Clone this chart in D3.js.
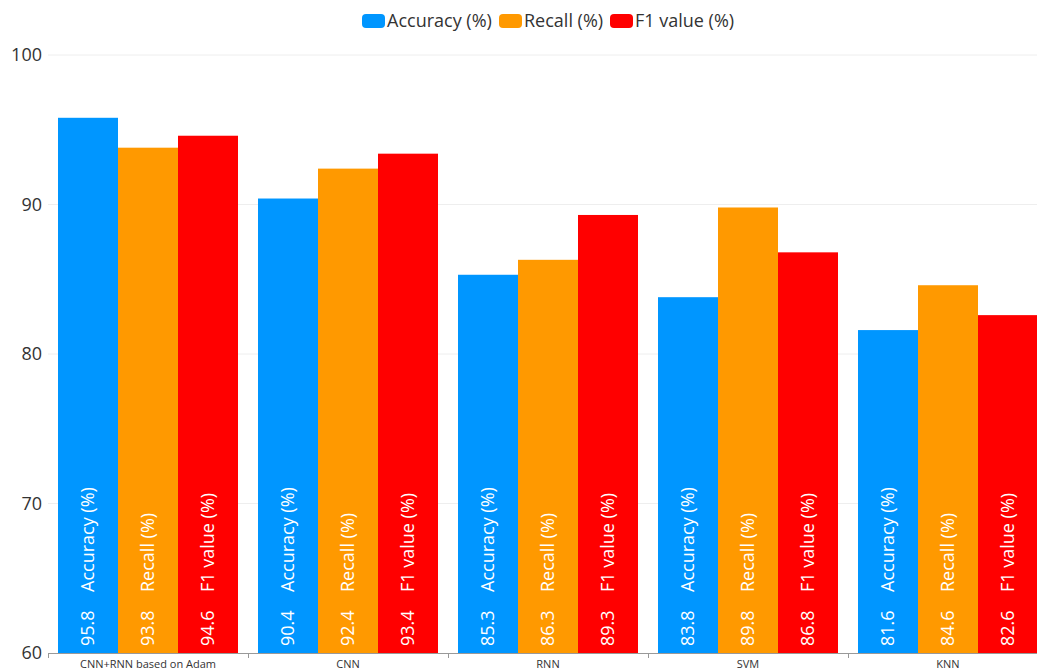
<!DOCTYPE html>
<html>
<head>
<meta charset="utf-8">
<script src="https://cdn.jsdelivr.net/npm/d3@7"></script>
<style>
html,body{margin:0;padding:0;background:#fff;overflow:hidden;}
svg{display:block;font-family:"Open Sans","Noto Sans",sans-serif;}
</style>
</head>
<body>
<svg id="chart" width="1037" height="670"></svg>
<script>
const categories = ["CNN+RNN based on Adam", "CNN", "RNN", "SVM", "KNN"];
const seriesNames = ["Accuracy (%)", "Recall (%)", "F1 value (%)"];
const accuracy = [95.8, 90.4, 85.3, 83.8, 81.6];
const recall = [93.8, 92.4, 86.3, 89.8, 84.6];
const f1 = [94.6, 93.4, 89.3, 86.8, 82.6];
const yTicks = [60, 70, 80, 90, 100];
const colors = ["#0096FF", "#FF9900", "#FF0000"];

const seriesValues = [accuracy, recall, f1];
const svg = d3.select("#chart");

const y = d3.scaleLinear().domain([60, 100]).range([653, 55]);
const x = d3.scaleBand().domain(categories).range([48, 1048]).paddingInner(0.1).paddingOuter(0.05);
const xs = d3.scaleBand().domain(seriesNames).range([0, x.bandwidth()]);

// grid lines
svg.append("g").selectAll("line").data(yTicks.filter(t => t !== 60)).join("line")
  .attr("x1", 48).attr("x2", 1048)
  .attr("y1", d => y(d)).attr("y2", d => y(d))
  .attr("stroke", "#eeeeee").attr("stroke-width", 1);

// y axis labels
const yAxis = svg.append("g").attr("transform", "translate(48,0)")
  .call(d3.axisLeft(y).tickValues(yTicks).tickSize(0).tickPadding(6));
yAxis.select(".domain").remove();
yAxis.selectAll("text").attr("font-size", 18).attr("fill", "#333")
  .attr("font-family", "'Open Sans','Noto Sans',sans-serif");

// bars
const groups = svg.append("g").selectAll("g").data(categories).join("g")
  .attr("transform", d => `translate(${x(d)},0)`);

seriesNames.forEach((s, si) => {
  groups.append("rect")
    .attr("x", xs(s))
    .attr("width", xs.bandwidth())
    .attr("y", (d, i) => y(seriesValues[si][i]))
    .attr("height", (d, i) => y(60) - y(seriesValues[si][i]))
    .attr("fill", colors[si]);
  // value label
  groups.append("text")
    .attr("transform", (d, i) => `translate(${xs(s) + xs.bandwidth() / 2 + 6},646) rotate(-90)`)
    .attr("font-size", 18).attr("fill", "#fff")
    .text((d, i) => seriesValues[si][i].toFixed(1));
  // series name label
  groups.append("text")
    .attr("transform", `translate(${xs(s) + xs.bandwidth() / 2 + 6},592) rotate(-90)`)
    .attr("font-size", 18).attr("fill", "#fff")
    .text(s);
});

// x axis
const xAxisG = svg.append("g").attr("transform", `translate(0,${y(60)})`);
xAxisG.append("line").attr("x1", 48).attr("x2", 1048).attr("y1", 0.5).attr("y2", 0.5)
  .attr("stroke", "#999").attr("stroke-width", 1);
const boundaries = d3.range(categories.length + 1).map(i => 48 + i * x.step());
xAxisG.selectAll("line.tk").data(boundaries).join("line").attr("class", "tk")
  .attr("x1", d => d + 0.5).attr("x2", d => d + 0.5).attr("y1", 0).attr("y2", 5)
  .attr("stroke", "#999");
xAxisG.selectAll("text").data(categories).join("text")
  .attr("x", d => x(d) + x.bandwidth() / 2)
  .attr("y", 15)
  .attr("text-anchor", "middle")
  .attr("font-size", 11).attr("fill", "#333")
  .text(d => d);

// legend
const legendItems = [
  {name: seriesNames[0], x: 362},
  {name: seriesNames[1], x: 499},
  {name: seriesNames[2], x: 610}
];
const lg = svg.append("g").selectAll("g").data(legendItems).join("g")
  .attr("transform", d => `translate(${d.x},21)`);
lg.append("rect").attr("x", 0).attr("y", -7).attr("width", 23).attr("height", 14)
  .attr("rx", 4).attr("fill", (d, i) => colors[i]);
lg.append("text").attr("x", 25).attr("y", 0).attr("dy", "0.35em")
  .attr("font-size", 18).attr("fill", "#333").text(d => d.name);
</script>
</body>
</html>
